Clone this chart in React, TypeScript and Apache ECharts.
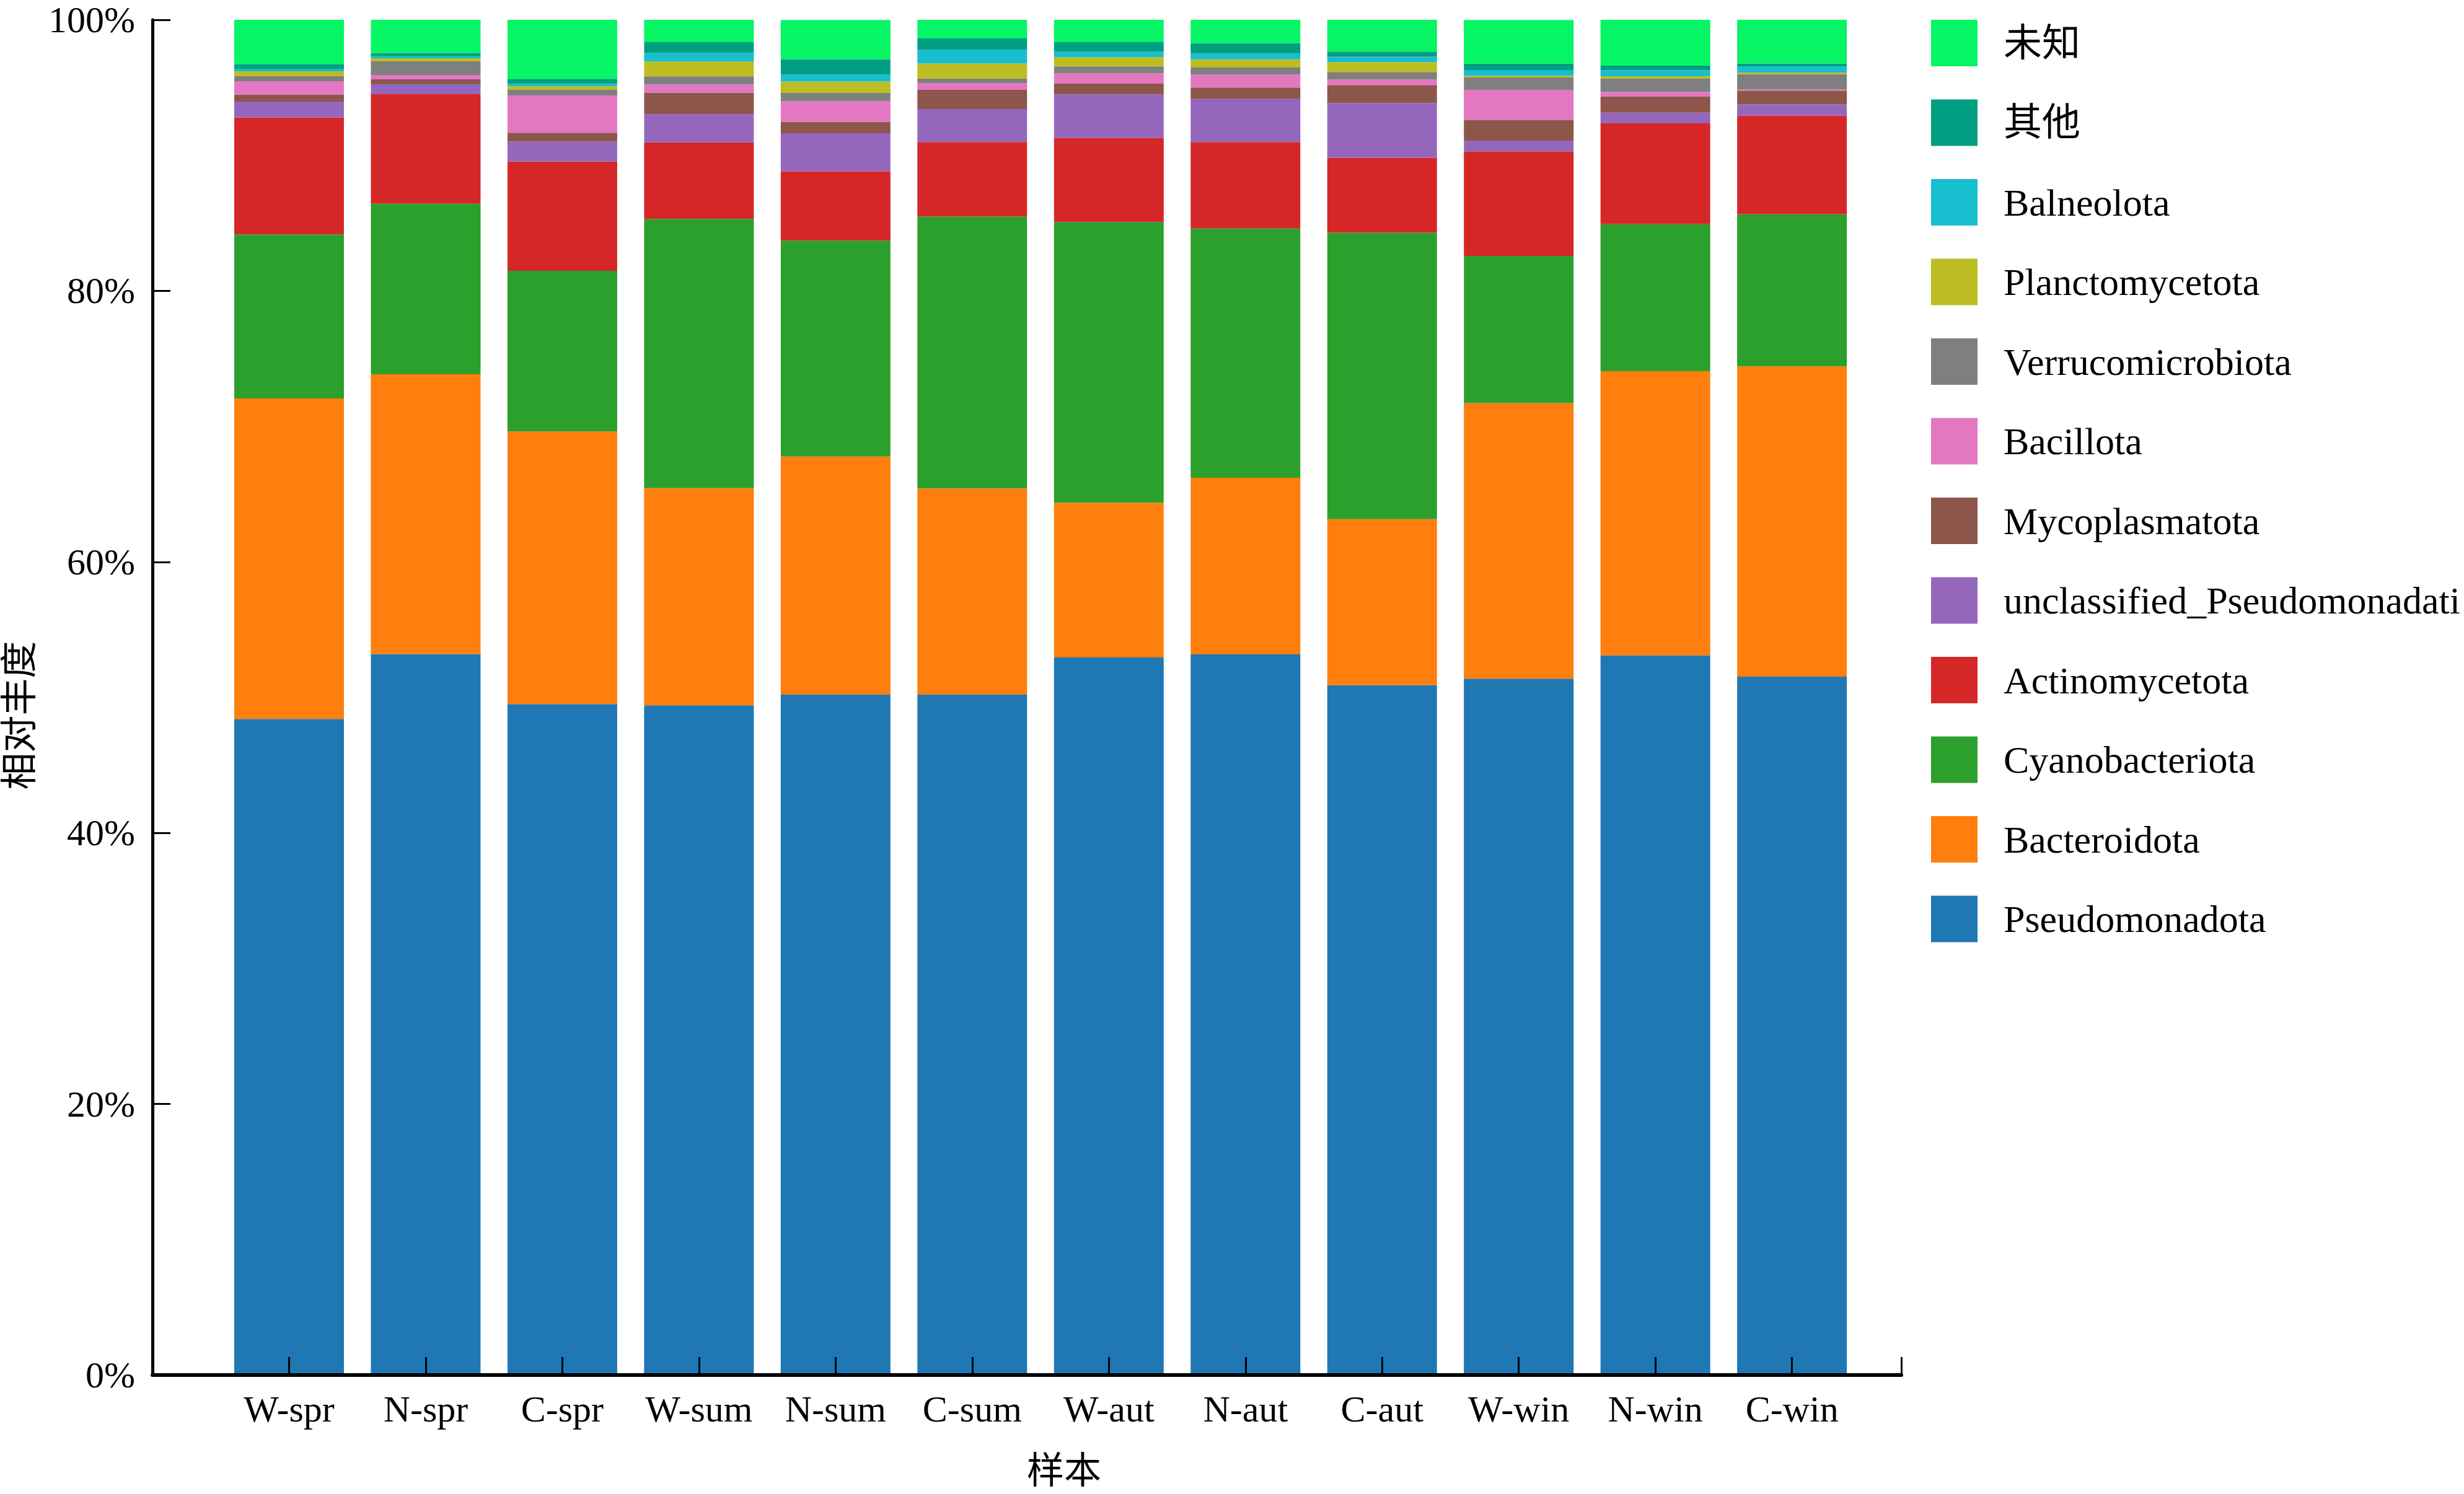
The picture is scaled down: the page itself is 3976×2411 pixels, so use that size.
import { useEffect, useRef } from "react";
import * as echarts from "echarts";

const samples = [
  "W-spr", "N-spr", "C-spr", "W-sum", "N-sum", "C-sum",
  "W-aut", "N-aut", "C-aut", "W-win", "N-win", "C-win",
];

// relative abundance (%), bottom to top of the stack
const pseudomonadota = [48.41, 53.2, 49.51, 49.42, 50.21, 50.21, 52.95, 53.18, 50.9, 51.38, 53.1, 51.53];
const bacteroidota = [23.65, 20.65, 20.12, 16.02, 17.57, 15.21, 11.41, 13.03, 12.26, 20.34, 20.97, 22.9];
const cyanobacteriota = [12.11, 12.58, 11.85, 19.87, 15.93, 20.06, 20.72, 18.39, 21.13, 10.86, 10.85, 11.22];
const actinomycetota = [8.63, 8.08, 8.06, 5.65, 5.11, 5.5, 6.21, 6.38, 5.54, 7.71, 7.44, 7.28];
const unclassifiedPseudomonadati = [1.16, 0.73, 1.47, 2.08, 2.81, 2.43, 3.21, 3.18, 4.02, 0.79, 0.79, 0.84];
const mycoplasmatota = [0.53, 0.37, 0.66, 1.59, 0.85, 1.42, 0.79, 0.84, 1.34, 1.54, 1.18, 1.01];
const bacillota = [0.98, 0.32, 2.75, 0.6, 1.51, 0.5, 0.75, 0.95, 0.41, 2.21, 0.35, 0.08];
const verrucomicrobiota = [0.37, 1.01, 0.41, 0.6, 0.61, 0.34, 0.52, 0.53, 0.55, 0.92, 0.98, 1.13];
const planctomycetota = [0.37, 0.23, 0.27, 1.1, 0.85, 1.11, 0.69, 0.6, 0.73, 0.12, 0.18, 0.12];
const balneolota = [0.18, 0.14, 0.18, 0.64, 0.5, 1.01, 0.41, 0.44, 0.4, 0.43, 0.43, 0.46];
const others = [0.32, 0.23, 0.37, 0.78, 1.15, 0.84, 0.69, 0.75, 0.38, 0.47, 0.35, 0.21];
const unknown = [3.3, 2.47, 4.35, 1.66, 2.89, 1.37, 1.65, 1.74, 2.34, 3.22, 3.39, 3.22];

const yTicks = [0, 20, 40, 60, 80, 100];

const groups = [
  { name: "Pseudomonadota", values: pseudomonadota, color: "#1f77b4" },
  { name: "Bacteroidota", values: bacteroidota, color: "#ff7f0e" },
  { name: "Cyanobacteriota", values: cyanobacteriota, color: "#2ca02c" },
  { name: "Actinomycetota", values: actinomycetota, color: "#d62728" },
  { name: "unclassified_Pseudomonadati", values: unclassifiedPseudomonadati, color: "#9467bd" },
  { name: "Mycoplasmatota", values: mycoplasmatota, color: "#8c564b" },
  { name: "Bacillota", values: bacillota, color: "#e377c2" },
  { name: "Verrucomicrobiota", values: verrucomicrobiota, color: "#7f7f7f" },
  { name: "Planctomycetota", values: planctomycetota, color: "#bcbd22" },
  { name: "Balneolota", values: balneolota, color: "#17becf" },
  { name: "其他", values: others, color: "#009e81" },
  { name: "未知", values: unknown, color: "#06f564" },
];

const FONT = "'Liberation Serif', 'Times New Roman', 'Noto Sans CJK SC', serif";

export default function App() {
  const ref = useRef<HTMLDivElement>(null);

  useEffect(() => {
    if (!ref.current) return;
    const chart = echarts.init(ref.current, undefined, { renderer: "svg" });
    chart.setOption({
      animation: false,
      backgroundColor: "#ffffff",
      textStyle: { fontFamily: FONT },
      grid: {
        left: 246,
        top: 32,
        right: 908,
        bottom: 192,
        outerBoundsMode: "none",
      },
      legend: {
        orient: "vertical",
        left: 3116,
        top: 32,
        padding: 0,
        itemWidth: 75,
        itemHeight: 75,
        itemGap: 53.5,
        icon: "rect",
        data: groups.map((g) => g.name).reverse(),
        textStyle: {
          fontFamily: FONT,
          fontSize: 62,
          color: "#000",
          padding: [0, 0, 0, 37],
        },
      },
      xAxis: {
        type: "value",
        min: 0,
        max: 12.8,
        interval: 1,
        z: 10,
        name: "样本",
        nameLocation: "middle",
        nameGap: 125,
        nameTextStyle: {
          fontFamily: FONT,
          fontSize: 60,
          color: "#000",
          padding: [0, 0, 0, 120],
        },
        splitLine: { show: false },
        axisLine: { lineStyle: { color: "#000", width: 6 } },
        axisTick: { inside: true, length: 29, lineStyle: { color: "#000", width: 3 } },
        axisLabel: {
          fontFamily: FONT,
          fontSize: 60,
          color: "#000",
          margin: 25,
          showMinLabel: true,
          showMaxLabel: true,
          formatter: (v: number) =>
            Number.isInteger(v) && v >= 1 ? samples[v - 1] ?? "" : "",
        },
      },
      yAxis: {
        type: "value",
        min: yTicks[0],
        max: yTicks[yTicks.length - 1],
        interval: yTicks[1] - yTicks[0],
        z: 10,
        name: "相对丰度",
        nameLocation: "middle",
        nameGap: 184,
        nameTextStyle: {
          fontFamily: FONT,
          fontSize: 60,
          color: "#000",
          padding: [0, 58, 0, 0],
        },
        splitLine: { show: false },
        axisLine: { show: true, lineStyle: { color: "#000", width: 5 } },
        axisTick: { show: true, inside: true, length: 29, lineStyle: { color: "#000", width: 3 } },
        axisLabel: {
          fontFamily: FONT,
          fontSize: 60,
          color: "#000",
          margin: 28,
          formatter: "{value}%",
        },
      },
      // value column first so that the stack runs along y
      series: groups.map((g) => ({
        name: g.name,
        type: "bar",
        stack: "total",
        barWidth: 177,
        itemStyle: { color: g.color },
        encode: { x: 1, y: 0 },
        data: g.values.map((v, i) => [v, i + 1]),
      })),
    });
    return () => chart.dispose();
  }, []);

  return (
    <div
      ref={ref}
      style={{ position: "fixed", left: 0, top: 0, width: 3976, height: 2411 }}
    />
  );
}
